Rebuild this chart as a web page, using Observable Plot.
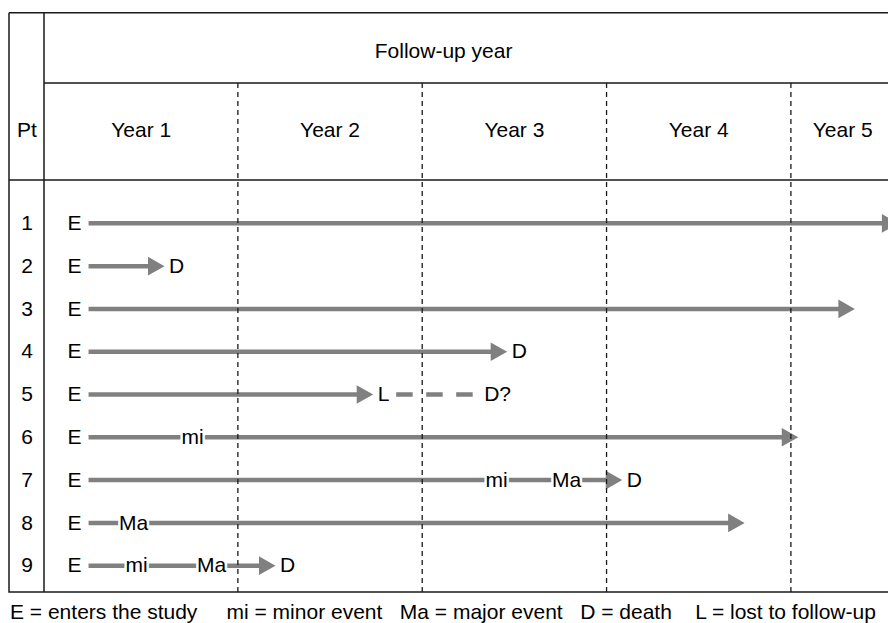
<!DOCTYPE html>
<html><head><meta charset="utf-8">
<script src="https://cdn.jsdelivr.net/npm/d3@7"></script>
<script src="https://cdn.jsdelivr.net/npm/@observablehq/plot@0.6"></script>
<style>
html,body{margin:0;padding:0;background:#fff;overflow:hidden}
#legend{font-family:"Liberation Sans",Arial,Helvetica,sans-serif;font-size:21px;line-height:26px;white-space:pre;padding:2px 0 0 10px;color:#000}
</style></head><body>
<div id="chart"></div>
<div id="legend"></div>
<script>
// ---- data ----
const patients = [1, 2, 3, 4, 5, 6, 7, 8, 9];
const entryYear = [0.19, 0.19, 0.19, 0.19, 0.19, 0.19, 0.19, 0.19, 0.19];
const arrowEndYear = [4.583, 0.602, 4.347, 2.461, 1.734, 4.040, 3.085, 3.749, 1.204];
const outcome = ["", "D", "", "D", "L", "", "D", "", "D"];
const eventPt = [6, 7, 7, 8, 9, 9];
const eventYear = [0.754, 2.403, 2.783, 0.434, 0.450, 0.857];
const eventLabel = ["mi", "mi", "Ma", "Ma", "mi", "Ma"];
const uncertainPt = [5];
const uncertainFrom = [1.734];
const uncertainTo = [2.409];
const uncertainLabel = ["D?"];
const yearLabels = ["Year 1", "Year 2", "Year 3", "Year 4", "Year 5"];
const yearBounds = [1, 2, 3, 4];
const headerTitle = "Follow-up year";
const ptHeader = "Pt";
const legendItems = ["E = enters the study", "mi = minor event", "Ma = major event", "D = death", "L = lost to follow-up"];

// ---- derived tables ----
const rows = patients.map((pt, i) => ({pt, entry: entryYear[i], end: arrowEndYear[i], outcome: outcome[i]}));
const events = eventPt.map((pt, i) => ({pt, t: eventYear[i], label: eventLabel[i]}));
const uncertain = uncertainPt.map((pt, i) => ({pt, from: uncertainFrom[i], to: uncertainTo[i], label: uncertainLabel[i]}));
const xDomain = [-0.049, 4.562];
const yearHeader = yearLabels.map((label, i) => {
  const lo = i === 0 ? xDomain[0] : i, hi = Math.min(i + 1, xDomain[1]);
  return {label, x: (lo + hi) / 2};
});
const titleX = (xDomain[0] + yearHeader[yearHeader.length - 1].x) / 2;

const gray = "#808080";
const ink = "#1a1a1a";
const arrowHead = {
  draw(ctx) { ctx.moveTo(0, 0); ctx.lineTo(-16.5, -9.3); ctx.lineTo(-16.5, 9.3); ctx.closePath(); }
};

function tableLines(index, scales, values, dims) {
  const {width, height, marginLeft, marginTop, marginBottom, marginRight} = dims;
  const outerLeft = 9, outerTop = 12.7;
  const right = width - marginRight, bottom = height - marginBottom;
  const bodyTop = scales.y(0);
  const g = d3.create("svg:g").attr("fill", "none").attr("stroke", ink).attr("stroke-width", 1.5);
  g.append("path").attr("d",
    `M${outerLeft},${outerTop}H${right}` +
    `M${outerLeft},${outerTop}V${bottom}H${right}` +
    `M${marginLeft},${outerTop}V${bottom}` +
    `M${outerLeft},${bodyTop}H${right}` +
    `M${marginLeft},${marginTop}H${right}`);
  return g.node();
}

const txt = {fill: "black", textAnchor: "middle", lineAnchor: "middle"};

const plot = Plot.plot({
  width: 888,
  height: 597,
  marginLeft: 44,
  marginRight: -6,
  marginTop: 83,
  marginBottom: 5,
  x: {domain: xDomain, axis: null},
  y: {domain: [-2.268, 9.627], reverse: true, axis: null},
  style: {fontFamily: "'Liberation Sans', Arial, Helvetica, sans-serif", fontSize: "21px", color: "black", background: "white", overflow: "hidden"},
  marks: [
    tableLines,
    Plot.arrow(rows, {x1: "entry", x2: "end", y1: "pt", y2: "pt", stroke: gray, strokeWidth: 4.5, headLength: 0, insetEnd: 8, strokeLinecap: "butt"}),
    Plot.dot(rows, {x: "end", y: "pt", symbol: arrowHead, fill: gray, stroke: null, r: 5}),
    Plot.arrow(uncertain, {x1: "from", x2: "to", y1: "pt", y2: "pt", stroke: gray, strokeWidth: 4.5, headLength: 0, insetStart: 23, insetEnd: 24, strokeDasharray: "16.5,13.5", strokeLinecap: "butt"}),
    Plot.ruleX(yearBounds, {x: d => d, stroke: ink, strokeWidth: 1.3, strokeDasharray: "5,4"}),
    Plot.text(events, {...txt, x: "t", y: "pt", text: "label", stroke: "white", strokeWidth: 5, paintOrder: "stroke", strokeLinejoin: "round"}),
    Plot.text(rows, {...txt, x: "entry", y: "pt", text: () => "E", textAnchor: "end", dx: -7}),
    Plot.text(rows.filter(d => d.outcome), {...txt, x: "end", y: "pt", text: "outcome", textAnchor: "start", dx: 4.5}),
    Plot.text(uncertain, {...txt, x: "to", y: "pt", text: "label"}),
    Plot.text(rows, {...txt, y: "pt", text: d => String(d.pt), frameAnchor: "left", dx: -17.5}),
    Plot.text(yearHeader, {...txt, x: "x", text: "label", frameAnchor: "top", dy: 47}),
    Plot.text([ptHeader], {...txt, text: d => d, frameAnchor: "top-left", dx: -17.5, dy: 47}),
    Plot.text([headerTitle], {...txt, x: () => titleX, text: d => d, frameAnchor: "top", dy: -32})
  ]
});
document.getElementById("chart").append(plot);
const gaps = ["     ", "   ", "   ", "    "];
document.getElementById("legend").textContent = legendItems.map((s, i) => s + (gaps[i] || "")).join("");
</script>
</body></html>
